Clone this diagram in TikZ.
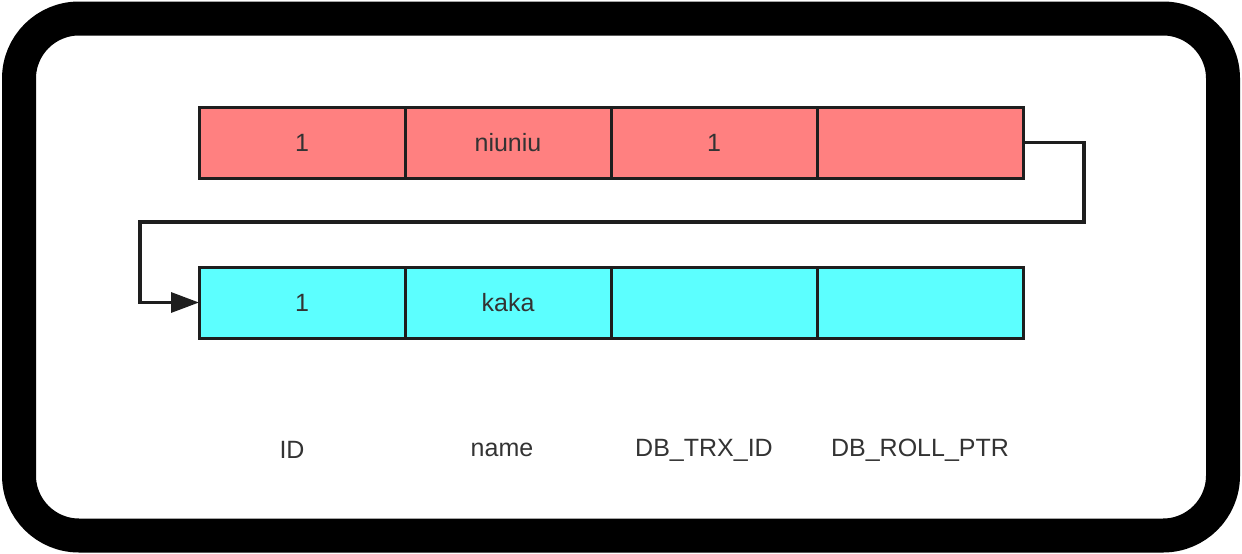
\documentclass[tikz,border=0pt]{standalone}
\usepackage{fontspec}
\setmainfont{Liberation Sans}
\usepackage{tikz}
\usetikzlibrary{arrows.meta, positioning, calc}
\definecolor{rowred}{RGB}{255, 128, 128}
\definecolor{rowcyan}{RGB}{92, 255, 255}
\definecolor{cellline}{RGB}{30, 30, 30}
\definecolor{labelgrey}{RGB}{51, 51, 51}

\begin{document}
\begin{tikzpicture}[x=1pt, y=-1pt,
        cell/.style={rectangle, draw=cellline, line width=3pt, minimum width=206pt, minimum height=71pt, inner sep=0pt, outer sep=0pt, text=labelgrey, font=\fontsize{25}{29}\selectfont},
        oldrow/.style={cell, fill=rowred},
        newrow/.style={cell, fill=rowcyan},
        colname/.style={text=labelgrey, font=\fontsize{25}{29}\selectfont},
        line/.style={draw=cellline, line width=3.2pt, -{Triangle[length=28pt, width=20pt]}}]

        % Frame
        \useasboundingbox (0,0) rectangle (1242,554);
        \draw[black, line width=34pt, rounded corners=60pt] (19,18.5) rectangle (1223,535.5);

        % Nodes
        \node [oldrow] (r1) at (302,142.5) {1};
        \node [oldrow, right=0pt of r1] (r2) {niuniu};
        \node [oldrow, right=0pt of r2] (r3) {1};
        \node [oldrow, right=0pt of r3] (r4) {};

        \node [newrow] (b1) at (302,302.5) {1};
        \node [newrow, right=0pt of b1] (b2) {kaka};
        \node [newrow, right=0pt of b2] (b3) {};
        \node [newrow, right=0pt of b3] (b4) {};

        % Arrows
        \coordinate (turnR) at (1084,222);
        \coordinate (turnL) at (140,222);
        \path [line] (r4.east) -| (turnR) -- (turnL) |- (b1.west);

        % Labels
        \node [colname] (lid) at (292,450) {ID};
        \node [colname] (lname) at (502,450) {name};
        \node [colname] (ltrx) at (704,450) {DB\_TRX\_ID};
        \node [colname] (lroll) at (920,450) {DB\_ROLL\_PTR};
    \end{tikzpicture}
\end{document}
